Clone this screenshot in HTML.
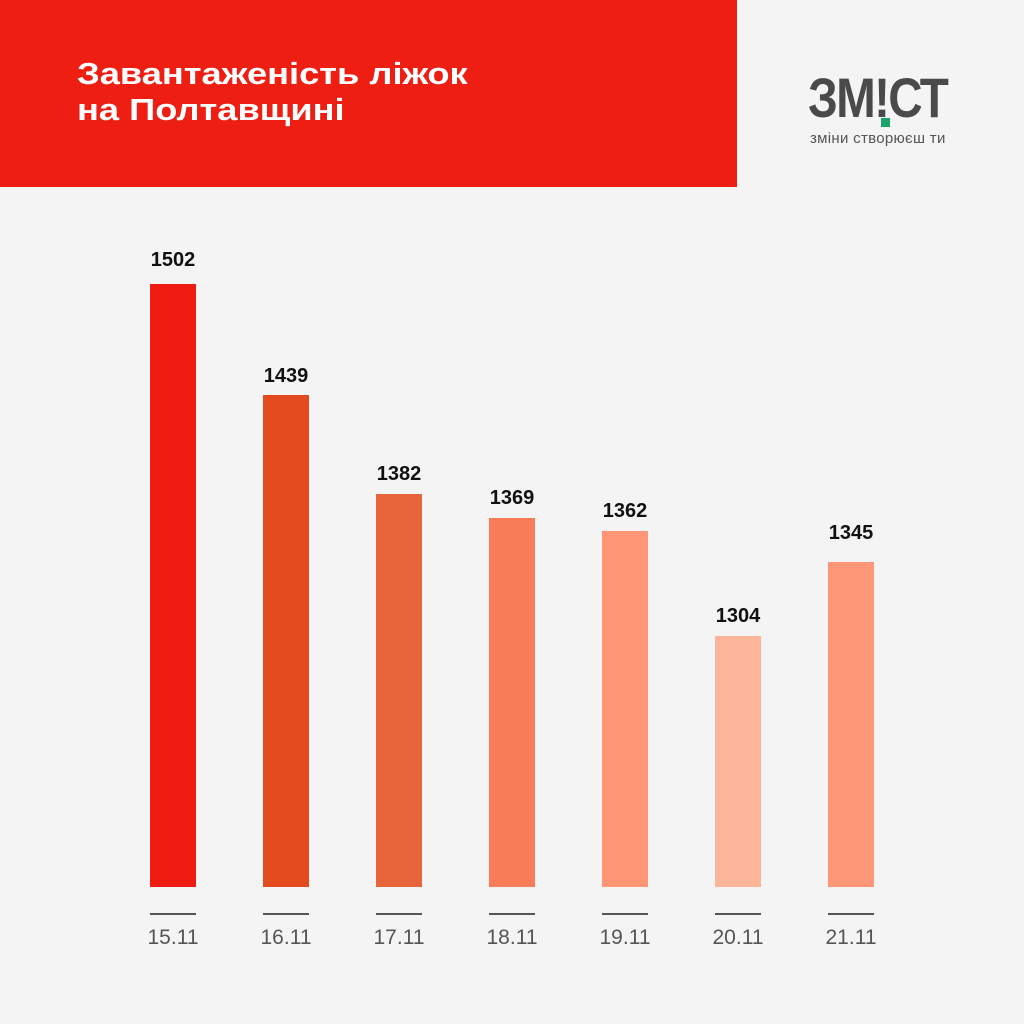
<!DOCTYPE html>
<html><head><meta charset="utf-8"><style>
body{margin:0;width:1024px;height:1024px;background:#f4f4f4;position:relative;overflow:hidden;font-family:"Liberation Sans",sans-serif}
.hdr{position:absolute;left:0;top:0;width:737px;height:187px;background:#ee1e13}
.t{position:absolute;left:77px;top:56px;color:#fff;font-weight:bold;font-size:31px;line-height:36px;transform:scaleX(1.17);transform-origin:left;white-space:nowrap}
.bar{position:absolute;width:46px;bottom:137px}
.v{position:absolute;width:80px;text-align:center;font-weight:bold;font-size:20px;color:#111}
.ln{position:absolute;width:46px;height:2px;top:913px;background:#555}
.d{position:absolute;width:80px;text-align:center;top:926px;font-size:21px;color:#555}
</style></head><body>
<div class="hdr"></div>
<div class="t">Завантаженість ліжок<br>на Полтавщині</div>
<div style="position:absolute;left:808px;top:68px;font-weight:bold;font-size:56px;color:#4a4a4a;letter-spacing:-2px;line-height:60px;transform:scaleX(0.85);transform-origin:left">ЗМ!СТ</div>
<div style="position:absolute;left:881px;top:118px;width:9px;height:9px;background:#1aa36a"></div>
<div style="position:absolute;left:810px;top:130px;font-size:15px;color:#555;letter-spacing:0.3px">зміни створюєш ти</div>
<div class="bar" style="left:150px;top:284px;background:#ee1c12"></div>
<div class="bar" style="left:263px;top:395px;background:#e44b1e"></div>
<div class="bar" style="left:376px;top:494px;background:#e8643a"></div>
<div class="bar" style="left:489px;top:518px;background:#f77c57"></div>
<div class="bar" style="left:602px;top:531px;background:#fe9574"></div>
<div class="bar" style="left:715px;top:636px;background:#fdb59a"></div>
<div class="bar" style="left:828px;top:562px;background:#fe9778"></div>
<div class="v" style="left:133px;top:249px">1502</div>
<div class="v" style="left:246px;top:365px">1439</div>
<div class="v" style="left:359px;top:463px">1382</div>
<div class="v" style="left:472px;top:487px">1369</div>
<div class="v" style="left:585px;top:500px">1362</div>
<div class="v" style="left:698px;top:605px">1304</div>
<div class="v" style="left:811px;top:522px">1345</div>
<div class="ln" style="left:150px"></div><div class="ln" style="left:263px"></div><div class="ln" style="left:376px"></div><div class="ln" style="left:489px"></div><div class="ln" style="left:602px"></div><div class="ln" style="left:715px"></div><div class="ln" style="left:828px"></div>
<div class="d" style="left:133px">15.11</div><div class="d" style="left:246px">16.11</div><div class="d" style="left:359px">17.11</div><div class="d" style="left:472px">18.11</div><div class="d" style="left:585px">19.11</div><div class="d" style="left:698px">20.11</div><div class="d" style="left:811px">21.11</div>
</body></html>
